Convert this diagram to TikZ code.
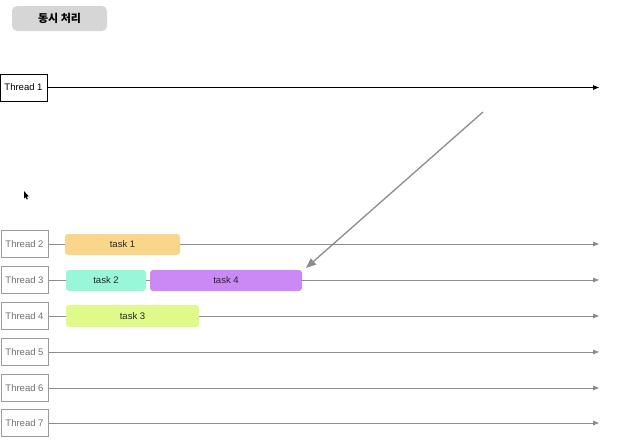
\documentclass[tikz,border=0pt]{standalone}
\usepackage{fontspec}
\setmainfont{Liberation Sans}
\newfontfamily\krfont{Noto Sans CJK KR}
\usetikzlibrary{arrows.meta}
\definecolor{titlegray}{HTML}{D6D6D6}
\definecolor{linegray}{HTML}{8C8C8C}
\definecolor{boxgray}{HTML}{9A9A9A}
\definecolor{textgray}{HTML}{707070}
\definecolor{taskA}{HTML}{F8D78B}
\definecolor{taskB}{HTML}{99F7D9}
\definecolor{taskC}{HTML}{DFF98B}
\definecolor{taskD}{HTML}{CB89F6}
\begin{document}
\begin{tikzpicture}[x=1pt,y=-1pt,
  thbox/.style={draw=boxgray,line width=1pt,fill=white,minimum width=47pt,minimum height=27pt,inner sep=0pt,font=\fontsize{9.5}{11}\selectfont,text=textgray},
  thmain/.style={thbox,draw=black,text=black},
  tline/.style={draw=linegray,line width=0.9pt,-{Triangle[length=6pt,width=4.5pt]}},
  tmain/.style={draw=black,line width=1pt,-{Triangle[length=6pt,width=4.5pt]}},
  task/.style={rounded corners=3pt,draw=none,inner sep=0pt,minimum height=21pt,font=\fontsize{9.5}{11}\selectfont,text=black!85}]
\useasboundingbox (0,0) rectangle (620,442);
% title
\node[fill=titlegray,rounded corners=5pt,minimum width=95pt,minimum height=25pt,inner sep=0pt,font=\krfont\bfseries\fontsize{11}{12}\selectfont] (title) at (59.5,18.5) {동시 처리};
% thread 1
\node[thmain] (t1) at (23.5,87.5) {Thread 1};
\coordinate (e1) at (599,87.5);
\draw[tmain] (t1.east) -- (e1);
% threads 2-7
\foreach \i/\y in {2/244,3/280,4/316,5/352,6/388,7/423}{
  \node[thbox] (t\i) at (24.5,\y) {Thread \i};
  \coordinate (e\i) at (599,\y);
  \draw[tline] (t\i.east) -- (e\i);
}
% tasks
\node[task,fill=taskA,minimum width=115pt] (k1) at (122.5,244.5) {task 1};
\node[task,fill=taskB,minimum width=80pt] (k2) at (106,280.5) {task 2};
\node[task,fill=taskD,minimum width=152pt] (k4) at (226,280.5) {task 4};
\node[task,fill=taskC,minimum width=133pt,minimum height=22pt] (k3) at (132.5,316) {task 3};
% diagonal arrow
\coordinate (ds) at (483,112);
\coordinate (de) at (306,268);
\draw[draw=linegray,line width=1.3pt,-{Triangle[length=10pt,width=8pt]}] (ds) -- (de);
% cursor
\fill[black] (24,191) -- (24,198.5) -- (25.6,197) -- (26.8,199.5) -- (27.8,199) -- (26.7,196.6) -- (28.8,196.4) -- cycle;
\end{tikzpicture}
\end{document}
